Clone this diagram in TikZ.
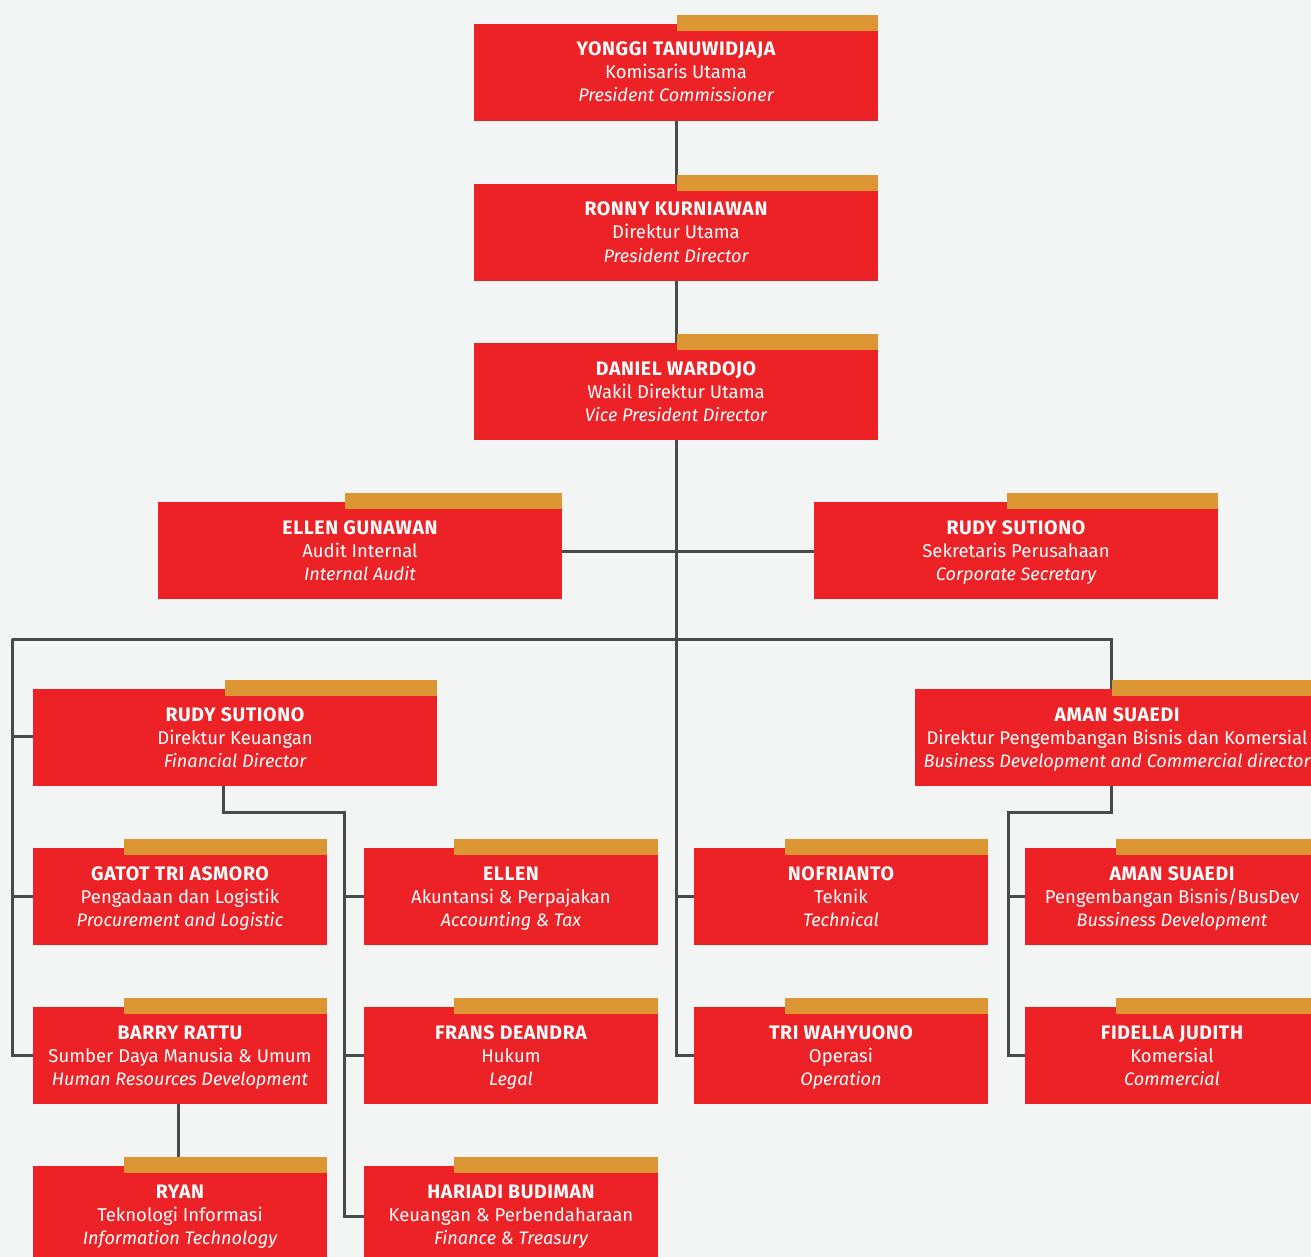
\documentclass[tikz,border=0pt]{standalone}
\usepackage{fontspec}
\setmainfont{Fira Sans}
\newfontfamily\namefont[LetterSpace=3]{Fira Sans}
\definecolor{bgc}{HTML}{F3F5F4}
\definecolor{redc}{HTML}{EC2227}
\definecolor{goldc}{HTML}{DB9633}
\definecolor{linec}{HTML}{4A4A4A}
\tikzset{
  x=1pt, y=-1pt,
  redbox/.style={fill=redc, draw=none, inner sep=0pt, minimum height=97pt, anchor=north west},
  nmtxt/.style={anchor=base, inner sep=0pt, text=white, font=\namefont\fontsize{19.5}{22}\selectfont\bfseries},
  rltxt/.style={anchor=base, inner sep=0pt, text=white, font=\fontsize{18.5}{22}\selectfont},
  entxt/.style={anchor=base, inner sep=0pt, text=white, font=\fontsize{18.1}{22}\selectfont\itshape},
  conn/.style={draw=linec, line width=3pt}
}
% id, left, top, width, goldstart, name, role, english
\newcommand\orgbox[8]{%
  \node[redbox, minimum width=#4pt] (#1) at (#2,#3) {};
  \fill[goldc] (#5,#3-9) rectangle (#2+#4,#3+7);
  \node[nmtxt] (#1n) at (#2+#4/2,#3+32) {#6};
  \node[rltxt] (#1r) at (#2+#4/2,#3+55) {#7};
  \node[entxt] (#1e) at (#2+#4/2,#3+78) {#8};
}
\begin{document}
\begin{tikzpicture}
\useasboundingbox (0,0) rectangle (1311,1257);
\fill[bgc] (0,0) rectangle (1311,1257);
\clip (0,0) rectangle (1311,1257);

% bend points of the connectors
\coordinate (hl) at (12,639);
\coordinate (hr) at (1111,639);
\coordinate (rf1) at (223,812);
\coordinate (rf2) at (344,812);
\coordinate (ad1) at (1111,812);
\coordinate (ad2) at (1008,812);

% --- connectors (drawn first, boxes on top)
\draw[conn] (676,121) -- (676,184);
\draw[conn] (676,281) -- (676,343);
\draw[conn] (676,440) |- (694,1055);
\draw[conn] (676,896) -- (694,896);
\draw[conn] (562,551) -- (814,551);
\draw[conn] (hl) -- (hr) -- (1111,689);
\draw[conn] (hl) |- (33,1055);
\draw[conn] (12,736) -- (33,736);
\draw[conn] (12,896) -- (33,896);
\draw[conn] (223,786) -- (rf1) -- (rf2) |- (364,1216);
\draw[conn] (344,896) -- (364,896);
\draw[conn] (344,1055) -- (364,1055);
\draw[conn] (1111,786) -- (ad1) -- (ad2) |- (1025,1055);
\draw[conn] (1008,896) -- (1025,896);
\draw[conn] (178,1104) -- (178,1160);

% --- boxes
\orgbox{yt}{474}{24}{404}{677}{YONGGI TANUWIDJAJA}{Komisaris Utama}{President Commissioner}
\orgbox{rk}{474}{184}{404}{677}{RONNY KURNIAWAN}{Direktur Utama}{President Director}
\orgbox{dw}{474}{343}{404}{677}{DANIEL WARDOJO}{Wakil Direktur Utama}{Vice President Director}
\orgbox{eg}{158}{502}{404}{345}{ELLEN GUNAWAN}{Audit Internal}{Internal Audit}
\orgbox{rs}{814}{502}{404}{1007}{RUDY SUTIONO}{Sekretaris Perusahaan}{Corporate Secretary}
\orgbox{rf}{33}{689}{404}{225}{RUDY SUTIONO}{Direktur Keuangan}{Financial Director}
\orgbox{ad}{915}{689}{404}{1112}{AMAN SUAEDI}{Direktur Pengembangan Bisnis dan Komersial}{Business Development and Commercial director}
\orgbox{ga}{33}{848}{294}{124}{GATOT TRI ASMORO}{Pengadaan dan Logistik}{Procurement and Logistic}
\orgbox{el}{364}{848}{294}{454}{ELLEN}{Akuntansi \& Perpajakan}{Accounting \& Tax}
\orgbox{nf}{694}{848}{294}{785}{NOFRIANTO}{Teknik}{Technical}
\orgbox{as}{1025}{848}{294}{1116}{AMAN SUAEDI}{Pengembangan Bisnis/BusDev}{Bussiness Development}
\orgbox{br}{33}{1007}{294}{124}{BARRY RATTU}{Sumber Daya Manusia \& Umum}{Human Resources Development}
\orgbox{fd}{364}{1007}{294}{454}{FRANS DEANDRA}{Hukum}{Legal}
\orgbox{tw}{694}{1007}{294}{785}{TRI WAHYUONO}{Operasi}{Operation}
\orgbox{fj}{1025}{1007}{294}{1116}{FIDELLA JUDITH}{Komersial}{Commercial}
\orgbox{ry}{33}{1166}{294}{124}{RYAN}{Teknologi Informasi}{Information Technology}
\orgbox{hb}{364}{1166}{294}{454}{HARIADI BUDIMAN}{Keuangan \& Perbendaharaan}{Finance \& Treasury}
\end{tikzpicture}
\end{document}
